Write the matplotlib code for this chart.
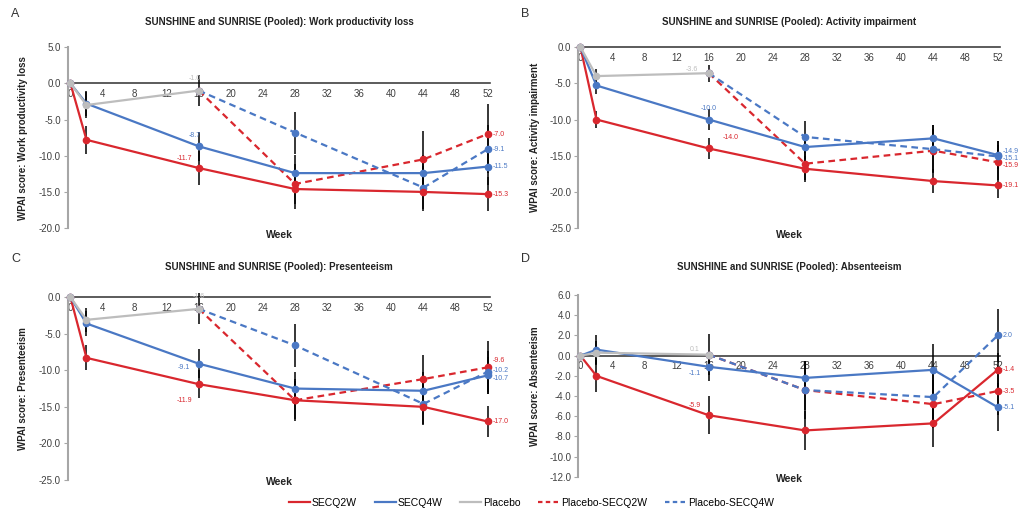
import numpy as np
import matplotlib.pyplot as plt

plt.rcParams['font.family'] = ['Liberation Sans', 'DejaVu Sans']

# colours
RED = '#D9272E'
BLUE = '#4A78C4'
GREY = '#BDBDBD'

weeks = [0, 2, 16, 28, 44, 52]
pbo_weeks = [0, 2, 16]
sw_weeks = [16, 28, 44, 52]
xticks = list(range(0, 53, 4))

## Panel A: work productivity loss
a_q2w = [0, -7.8, -11.7, -14.6, -15.0, -15.3]
a_q4w = [0, -2.8, -8.7, -12.4, -12.4, -11.5]
a_pbo = [0, -3.0, -1.0]
a_pq2w = [-1.0, -13.9, -10.5, -7.0]
a_pq4w = [-1.0, -6.8, -14.4, -9.1]
a_q2w_err = [0, 1.9, 2.3, 2.7, 2.7, 2.4]
a_q4w_err = [0, 1.7, 2.0, 2.5, 2.5, 2.5]
a_pbo_err = [0, 1.8, 2.1]
a_pq2w_err = [0, 2.8, 3.9, 4.1]
a_pq4w_err = [0, 2.9, 3.0, 3.3]

## Panel B: activity impairment
b_q2w = [0, -10.0, -14.0, -16.8, -18.5, -19.1]
b_q4w = [0, -5.3, -10.0, -13.8, -12.6, -14.9]
b_pbo = [0, -4.0, -3.6]
b_pq2w = [-3.6, -16.1, -14.3, -15.9]
b_pq4w = [-3.6, -12.4, -14.1, -15.1]
b_q2w_err = [0, 1.2, 1.5, 1.8, 1.7, 1.8]
b_q4w_err = [0, 1.2, 1.5, 1.7, 1.8, 2.0]
b_pbo_err = [0, 1.0, 1.2]
b_pq2w_err = [0, 2.2, 3.0, 2.4]
b_pq4w_err = [0, 2.2, 3.3, 2.2]

## Panel C: presenteeism
c_q2w = [0, -8.3, -11.9, -14.1, -15.0, -17.0]
c_q4w = [0, -3.6, -9.1, -12.5, -12.8, -10.7]
c_pbo = [0, -3.1, -1.6]
c_pq2w = [-1.6, -14.1, -11.2, -9.6]
c_pq4w = [-1.6, -6.6, -14.6, -10.2]
c_q2w_err = [0, 1.7, 1.9, 2.9, 2.5, 2.1]
c_q4w_err = [0, 1.7, 2.0, 2.3, 2.5, 2.5]
c_pbo_err = [0, 1.6, 2.1]
c_pq2w_err = [0, 2.6, 3.3, 3.6]
c_pq4w_err = [0, 2.9, 2.8, 2.8]

## Panel D: absenteeism
d_q2w = [0, -2.0, -5.9, -7.4, -6.7, -1.4]
d_q4w = [0, 0.6, -1.1, -2.2, -1.4, -5.1]
d_pbo = [0, 0.3, 0.1]
d_pq2w = [0.1, -3.4, -4.8, -3.5]
d_pq4w = [0.1, -3.4, -4.1, 2.0]
d_q2w_err = [0, 1.6, 1.9, 1.9, 2.3, 1.7]
d_q4w_err = [0, 1.4, 1.4, 1.7, 2.6, 2.4]
d_pbo_err = [0, 1.2, 2.0]
d_pq2w_err = [0, 2.0, 2.4, 2.4]
d_pq4w_err = [0, 2.9, 2.4, 2.6]

# value labels: (week, value, text, colour, dx, dy) offsets in points
a_labels = [(16, -1.0, '-1.0', GREY, -3, 9), (16, -8.7, '-8.7', BLUE, -3, 8),
            (16, -11.7, '-11.7', RED, -10, 7), (52, -7.0, '-7.0', RED, 3.5, 0),
            (52, -9.1, '-9.1', BLUE, 3.5, 0), (52, -11.5, '-11.5', BLUE, 3.5, 0),
            (52, -15.3, '-15.3', RED, 3.5, 0)]
b_labels = [(16, -3.6, '-3.6', GREY, -12, 3), (16, -10.0, '-10.0', BLUE, 0, 8),
            (16, -14.0, '-14.0', RED, 10, 8), (52, -14.9, '-14.9', BLUE, 3.5, 2.5),
            (52, -15.1, '-15.1', BLUE, 3.5, -1.5), (52, -15.9, '-15.9', RED, 3.5, -2),
            (52, -19.1, '-19.1', RED, 3.5, 0)]
c_labels = [(16, -1.6, '-1.6', GREY, 0, 9), (16, -9.1, '-9.1', BLUE, -11, -3),
            (16, -11.9, '-11.9', RED, -10, -12), (52, -9.6, '-9.6', RED, 3.5, 5),
            (52, -10.2, '-10.2', BLUE, 3.5, 1), (52, -10.7, '-10.7', BLUE, 3.5, -2.5),
            (52, -17.0, '-17.0', RED, 3.5, 0)]
d_labels = [(16, 0.1, '0.1', GREY, -10, 4), (16, -1.1, '-1.1', BLUE, -10, -5),
            (16, -5.9, '-5.9', RED, -10, 7), (52, 2.0, '2.0', BLUE, 3.5, 0),
            (52, -1.4, '-1.4', RED, 3.5, 0), (52, -3.5, '-3.5', RED, 3.5, 0),
            (52, -5.1, '-5.1', BLUE, 3.5, 0)]


def panel(ax, q2w, q4w, pbo, pq2w, pq4w, errs, labels, ylim, ystep):
    ebk = dict(ecolor='black', elinewidth=1.1, capsize=0, markersize=4.5,
               linewidth=1.6, clip_on=False, zorder=3)
    q2w_err, q4w_err, pbo_err, pq2w_err, pq4w_err = errs
    ax.errorbar(sw_weeks, pq2w, yerr=pq2w_err, color=RED, marker='o',
                linestyle=(0, (3, 2)), **ebk)
    ax.errorbar(sw_weeks, pq4w, yerr=pq4w_err, color=BLUE, marker='o',
                linestyle=(0, (3, 2)), **ebk)
    ax.errorbar(weeks, q2w, yerr=q2w_err, color=RED, marker='o', **ebk)
    ax.errorbar(weeks, q4w, yerr=q4w_err, color=BLUE, marker='o', **ebk)
    ax.errorbar(pbo_weeks, pbo, yerr=pbo_err, color=GREY, marker='o', **ebk)
    for x, y, t, c, dx, dy in labels:
        ax.annotate(t, (x, y), xytext=(dx, dy), textcoords='offset points',
                    fontsize=5, color=c, ha='left' if dx > 3 else 'center',
                    va='center', annotation_clip=False)
    ax.set_xlim(-0.3, 52.3)
    ax.set_ylim(*ylim)
    ax.set_xticks(xticks)
    ax.set_yticks(np.arange(ylim[0], ylim[1] + 0.01, ystep))
    ax.yaxis.set_major_formatter(plt.FormatStrFormatter('%.1f'))
    for s in ['top', 'right']:
        ax.spines[s].set_visible(False)
    ax.spines['bottom'].set_position(('data', 0))
    ax.spines['bottom'].set_color('#404040')
    ax.spines['bottom'].set_linewidth(1.2)
    ax.spines['bottom'].set_zorder(1)
    ax.spines['left'].set_color('#A6A6A6')
    ax.spines['left'].set_linewidth(1.5)
    ax.tick_params(axis='x', length=0, labelsize=7, colors='#404040', pad=4)
    ax.tick_params(axis='y', length=3, color='#A6A6A6', labelsize=7,
                   labelcolor='#404040', pad=2)


fig = plt.figure(figsize=(10.18, 5.15), dpi=100)
axA = fig.add_axes([0.0668, 0.557, 0.4146, 0.3515])
axB = fig.add_axes([0.5678, 0.557, 0.4146, 0.3515])
axC = fig.add_axes([0.0668, 0.068, 0.4146, 0.355])
axD = fig.add_axes([0.5678, 0.074, 0.4146, 0.353])

panel(axA, a_q2w, a_q4w, a_pbo, a_pq2w, a_pq4w,
      (a_q2w_err, a_q4w_err, a_pbo_err, a_pq2w_err, a_pq4w_err), a_labels, (-20, 5), 5)
panel(axB, b_q2w, b_q4w, b_pbo, b_pq2w, b_pq4w,
      (b_q2w_err, b_q4w_err, b_pbo_err, b_pq2w_err, b_pq4w_err), b_labels, (-25, 0), 5)
panel(axC, c_q2w, c_q4w, c_pbo, c_pq2w, c_pq4w,
      (c_q2w_err, c_q4w_err, c_pbo_err, c_pq2w_err, c_pq4w_err), c_labels, (-25, 0), 5)
panel(axD, d_q2w, d_q4w, d_pbo, d_pq2w, d_pq4w,
      (d_q2w_err, d_q4w_err, d_pbo_err, d_pq2w_err, d_pq4w_err), d_labels, (-12, 6), 2)

titles = ['Work productivity loss', 'Activity impairment', 'Presenteeism', 'Absenteeism']
letters = ['A', 'B', 'C', 'D']
for ax, t, l in zip([axA, axB, axC, axD], titles, letters):
    pos = ax.get_position()
    cx = pos.x0 + pos.width / 2
    top_row = ax in (axA, axB)
    ty = 0.957 if top_row else 0.482
    fig.text(cx, ty, 'SUNSHINE and SUNRISE (Pooled): ' + t, fontsize=7,
             fontweight='bold', ha='center', va='center', color='#222222')
    fig.text(pos.x0 - 0.056, ty + 0.016, l, fontsize=9, ha='left', va='center',
             color='#333333')
    fig.text(cx, pos.y0 - (0.013 if top_row else 0.004), 'Week', fontsize=7.5,
             fontweight='bold', ha='center', va='center', color='#222222')
    fig.text(0.0225 if ax in (axA, axC) else 0.5255, pos.y0 + pos.height / 2,
             'WPAI score: ' + t, fontsize=7, fontweight='bold', rotation=90,
             ha='center', va='center', color='#222222')

# legend
handles = [plt.Line2D([], [], color=RED, lw=1.6),
           plt.Line2D([], [], color=BLUE, lw=1.6),
           plt.Line2D([], [], color=GREY, lw=1.6),
           plt.Line2D([], [], color=RED, lw=1.6, ls=(0, (2, 1.5))),
           plt.Line2D([], [], color=BLUE, lw=1.6, ls=(0, (2, 1.5)))]
names = ['SECQ2W', 'SECQ4W', 'Placebo', 'Placebo-SECQ2W', 'Placebo-SECQ4W']
fig.legend(handles, names, loc='center', bbox_to_anchor=(0.522, 0.024), ncol=5,
           frameon=False, fontsize=7.5, handlelength=2.0, handletextpad=0.2,
           columnspacing=1.7)

fig.savefig('out.png', dpi=100)
